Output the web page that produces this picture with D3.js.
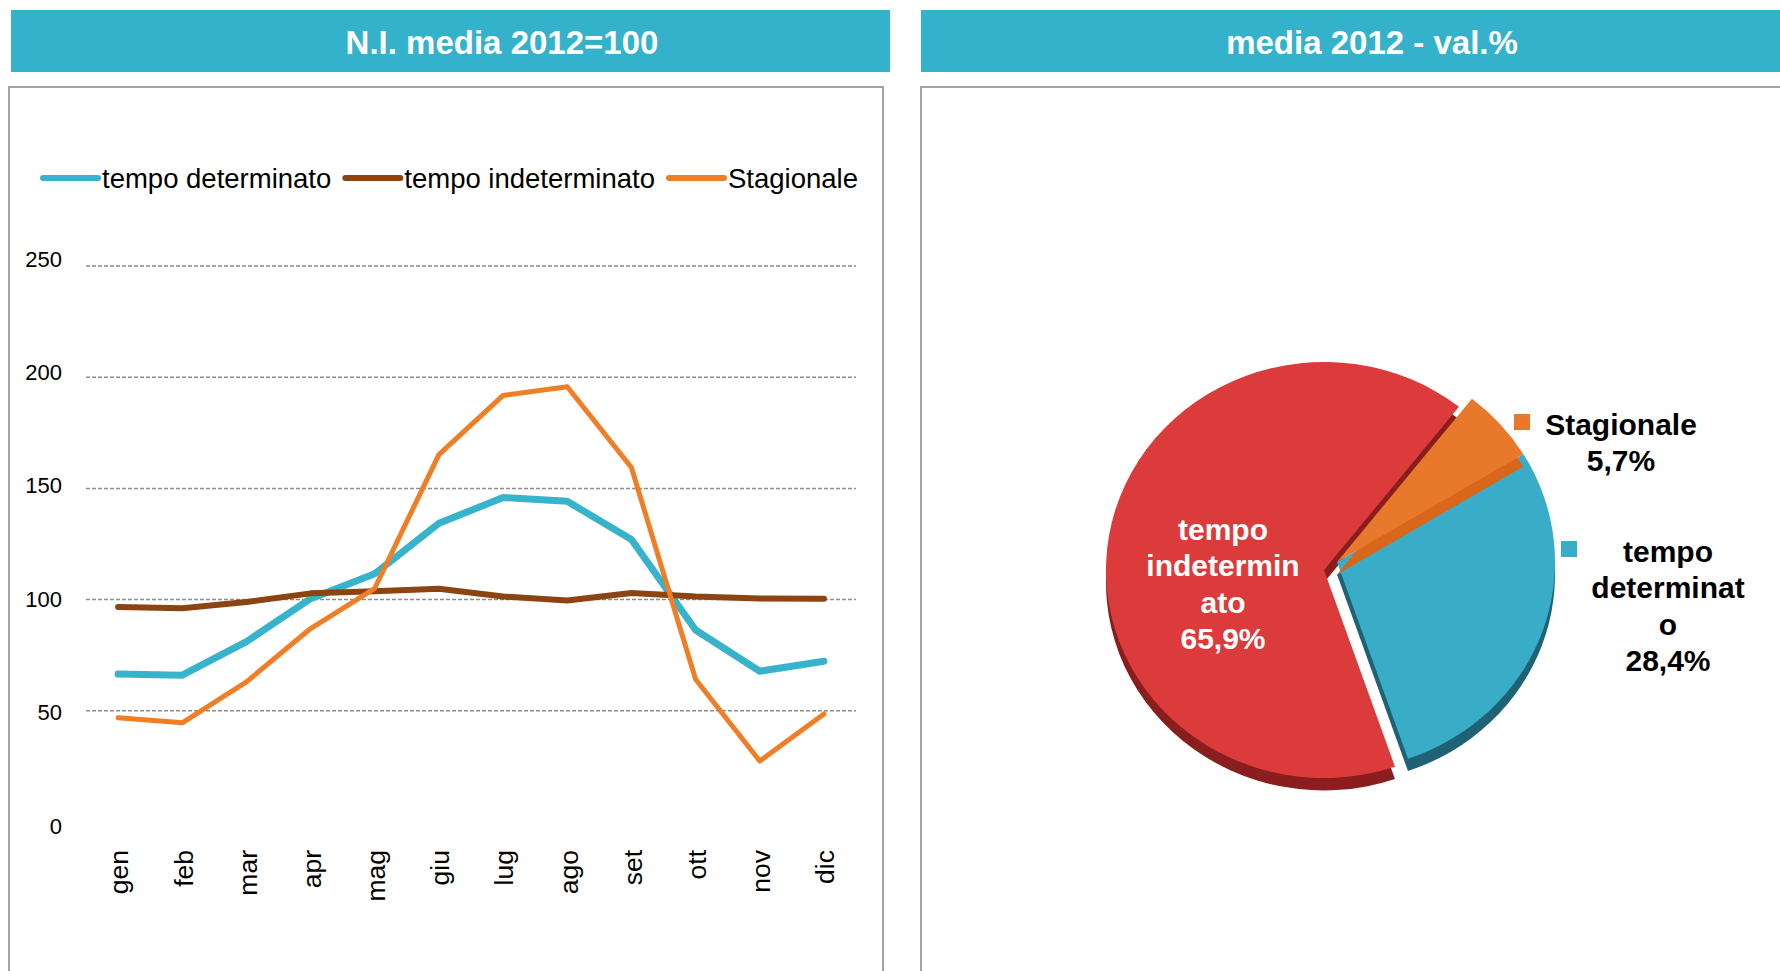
<!DOCTYPE html>
<html>
<head>
<meta charset="utf-8">
<script src="https://cdn.jsdelivr.net/npm/d3@7"></script>
<style>
    body { margin: 0; background: #fff; }
    text { font-family: "Liberation Sans", Arial, sans-serif; }
</style>
</head>
<body>
<svg id="chart" width="1780" height="971"></svg>
<script>
// ---- data ----
const months = ["gen", "feb", "mar", "apr", "mag", "giu", "lug", "ago", "set", "ott", "nov", "dic"];
const tempoDeterminato   = [66.5, 66.0, 81.1, 100.4, 111.6, 134.3, 145.9, 144.2, 127.0, 86.3, 67.8, 72.3];
const tempoIndeterminato = [96.7, 96.1, 98.9, 102.8, 103.7, 104.9, 101.4, 99.6, 103.0, 101.4, 100.5, 100.4];
const stagionale         = [46.9, 44.6, 63.0, 87.0, 105.1, 165.2, 191.8, 195.7, 159.4, 64.2, 27.4, 48.6];
const lineNames = ["tempo determinato", "tempo indeterminato", "Stagionale"];
const yTicks = [0, 50, 100, 150, 200, 250];

const pieNames = ["tempo indeterminato", "Stagionale", "tempo determinato"];
const pieShares = [65.9, 5.7, 28.4];

const titles = ["N.I. media 2012=100", "media 2012 - val.%"];

// ---- styles ----
const lineColors = ["#38b3cc", "#8c4412", "#f07e26"];
const lineWidths = [7, 6, 5];
const pieColors = ["#dc3b3b", "#e8792c", "#39acc8"];
const pieSides  = ["#8a1e1e", "#d8661b", "#1f6275"];
const headColor = "#35b2cb";

const svg = d3.select("#chart");

// headers and panel frames
const headers = [{x: 11, w: 879, tx: 502}, {x: 921, w: 870, tx: 1372}];
headers.forEach((h, i) => {
    svg.append("rect").attr("x", h.x).attr("y", 10).attr("width", h.w).attr("height", 62)
        .attr("fill", headColor);
    svg.append("text").attr("x", h.tx).attr("y", 54).attr("text-anchor", "middle")
        .attr("fill", "#fff").attr("font-size", 33).attr("font-weight", "bold")
        .text(titles[i]);
});
svg.append("rect").attr("x", 9).attr("y", 87).attr("width", 874).attr("height", 1000)
    .attr("fill", "none").attr("stroke", "#a3a3a3").attr("stroke-width", 2);
svg.append("rect").attr("x", 921).attr("y", 87).attr("width", 900).attr("height", 1000)
    .attr("fill", "none").attr("stroke", "#a3a3a3").attr("stroke-width", 2);

// ---- line chart ----
const x = d3.scaleBand().domain(months).range([86, 856]);
const y = d3.scaleLinear().domain([0, 250]).range([822, 266]);
// tick labels sit on a slightly stretched scale in the original
const yLab = d3.scaleLinear().domain([0, 250]).range([826, 259]);

svg.append("g").selectAll("line")
    .data(yTicks.filter(d => d > 0))
    .join("line")
    .attr("x1", 86).attr("x2", 856)
    .attr("y1", d => y(d)).attr("y2", d => y(d))
    .attr("stroke", "#8c8c8c").attr("stroke-width", 1.5).attr("stroke-dasharray", "4,2");

const yAxis = svg.append("g")
    .attr("transform", "translate(62,0)")
    .call(d3.axisLeft(yLab).tickValues(yTicks).tickSize(0).tickPadding(0));
yAxis.select(".domain").remove();
yAxis.selectAll("text").attr("font-size", 22).attr("fill", "#000")
    .style("font-family", "'Liberation Sans', Arial, sans-serif");

svg.append("g").selectAll("text")
    .data(months)
    .join("text")
    .attr("transform", d => `translate(${x(d) + x.bandwidth() / 2 + 1},850) rotate(-90)`)
    .attr("text-anchor", "end")
    .attr("dy", "0.35em")
    .attr("font-size", 26.5)
    .text(d => d);

const series = [tempoDeterminato, tempoIndeterminato, stagionale];
const line = d3.line()
    .x((d, i) => x(months[i]) + x.bandwidth() / 2)
    .y(d => y(d));

svg.append("g").selectAll("path")
    .data(series)
    .join("path")
    .attr("d", line)
    .attr("fill", "none")
    .attr("stroke", (d, i) => lineColors[i])
    .attr("stroke-width", (d, i) => lineWidths[i])
    .attr("stroke-linejoin", "round")
    .attr("stroke-linecap", "round");

// legend, laid out left to right
const legend = svg.append("g").attr("transform", "translate(43,178)");
let lx = 0;
lineNames.forEach((name, i) => {
    legend.append("line").attr("x1", lx).attr("x2", lx + 55)
        .attr("stroke", lineColors[i]).attr("stroke-width", 6).attr("stroke-linecap", "round");
    const t = legend.append("text").attr("x", lx + 59).attr("y", 10)
        .attr("font-size", 27.5).text(name);
    lx += 59 + t.node().getComputedTextLength() + 14;
});

// ---- pie chart ----
const pieCx = 1324, pieCy = 570, rx = 218, ry = 208, depth = 13;
const explode = [13, -8];   // orange and blue slices pulled out together
const a0 = 161 * Math.PI / 180;
const pie = d3.pie().sort(null).startAngle(a0).endAngle(a0 + 2 * Math.PI);
const arc = d3.arc().innerRadius(0).outerRadius(rx);
const arcs = pie(pieShares);

const gPie = svg.append("g").attr("transform", `translate(${pieCx},${pieCy})`);
const drawOrder = [0, 2, 1];
drawOrder.forEach(i => {
    const d = arcs[i];
    const off = i === 0 ? [0, 0] : explode;
    const g = gPie.append("g").attr("transform", `translate(${off[0]},${off[1]}) scale(1,${ry / rx})`);
    g.append("path").attr("d", arc(d)).attr("fill", pieSides[i])
        .attr("transform", `translate(0,${depth})`);
    g.append("path").attr("d", arc(d)).attr("fill", pieColors[i]);
});

// labels: split long words the way the original wraps them
const fmt = d3.formatLocale({decimal: ",", thousands: ".", grouping: [3], currency: ["", "€"]}).format(".1f");
function wrapName(name, max) {
    const out = [];
    name.split(" ").forEach(w => {
        for (let k = 0; k < w.length; k += max) out.push(w.slice(k, k + max));
    });
    return out;
}
const labelLayout = [
    {x: 1223, y: 540, color: "#fff", box: false},
    {x: 1621, y: 435, color: "#000", box: [1514, 414]},
    {x: 1668, y: 562, color: "#000", box: [1561, 541]}
];
arcs.forEach((d, i) => {
    const L = labelLayout[i];
    const lines = wrapName(pieNames[i], 10).concat(fmt(pieShares[i]) + "%");
    svg.append("text")
        .attr("x", L.x).attr("y", L.y)
        .attr("text-anchor", "middle")
        .attr("font-size", 30).attr("font-weight", "bold")
        .attr("fill", L.color)
        .selectAll("tspan").data(lines).join("tspan")
        .attr("x", L.x).attr("dy", (t, k) => k === 0 ? 0 : 36.3)
        .text(t => t);
    if (L.box) {
        svg.append("rect").attr("x", L.box[0]).attr("y", L.box[1])
            .attr("width", 16).attr("height", 16).attr("fill", pieColors[i]);
    }
});
</script>
</body>
</html>
